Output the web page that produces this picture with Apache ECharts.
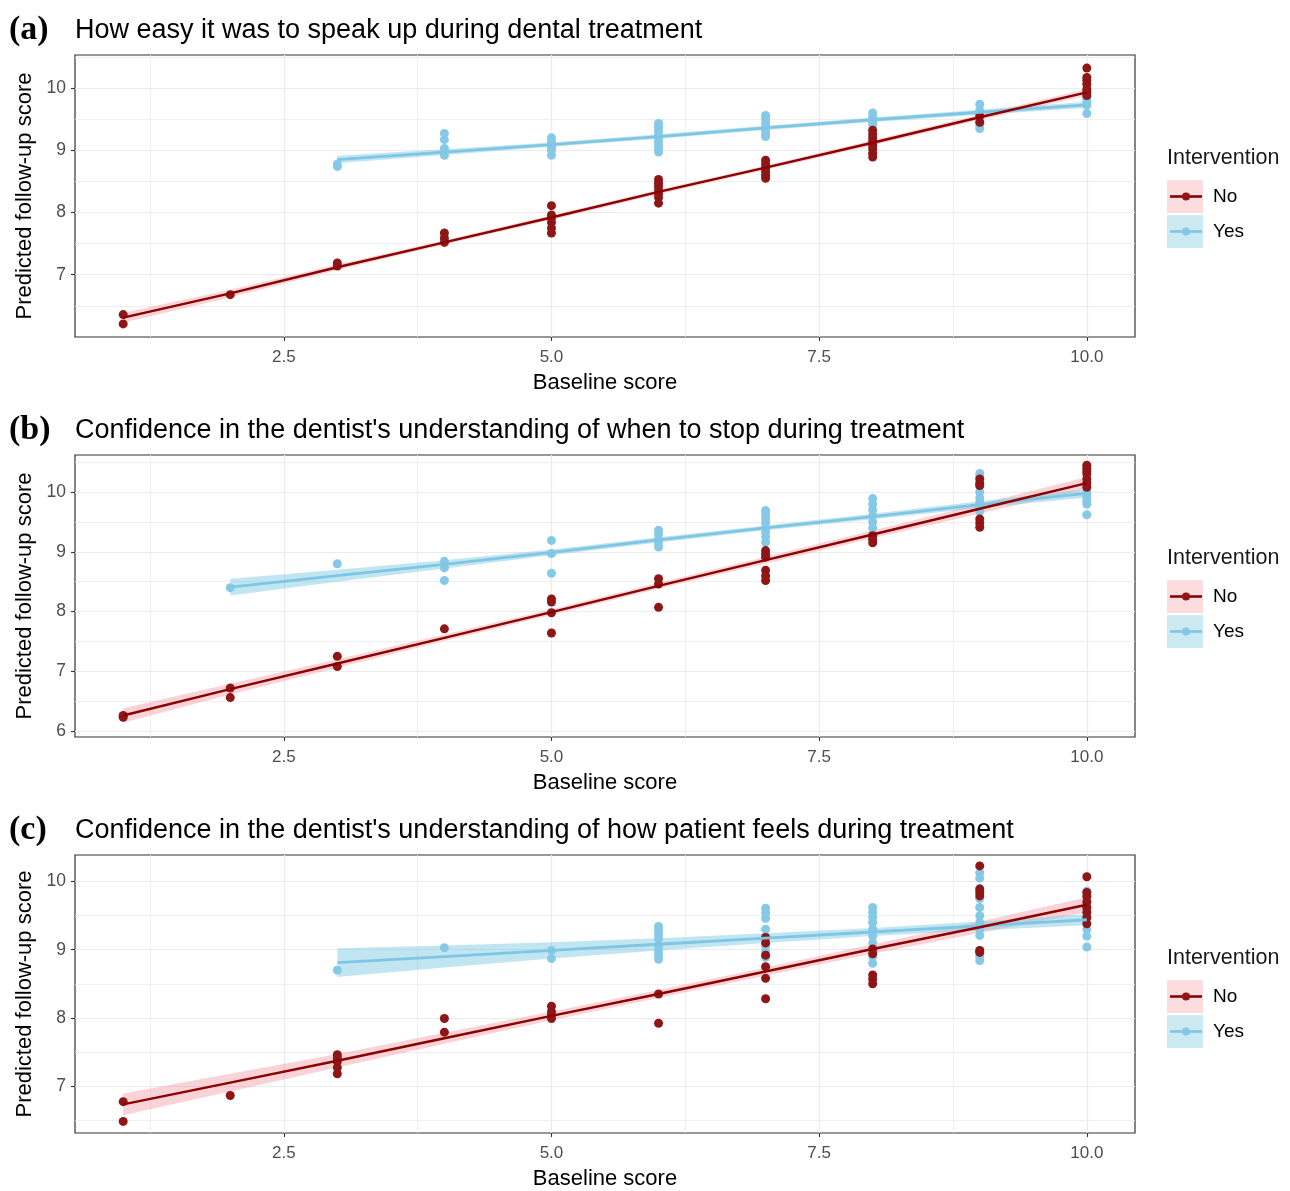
<!DOCTYPE html>
<html><head><meta charset="utf-8">
<script src="https://cdn.jsdelivr.net/npm/echarts@6/dist/echarts.min.js"></script>
<style>html,body{margin:0;padding:0;background:#fff}#chart{width:1290px;height:1191px}</style>
</head><body><div id="chart"></div>
<script>
// ---------------- DATA ----------------
const panelLetters = ['(a)', '(b)', '(c)'];
const panelTitles = [
  'How easy it was to speak up during dental treatment',
  "Confidence in the dentist's understanding of when to stop during treatment",
  "Confidence in the dentist's understanding of how patient feels during treatment"
];
const xAxisTitle = 'Baseline score';
const yAxisTitle = 'Predicted follow-up score';
const legendTitle = 'Intervention';
const groupNames = ['No', 'Yes'];

const xRange = [0.55, 10.45];
const xTickValues = [2.5, 5, 7.5, 10];
const xMinorValues = [1.25, 3.75, 6.25, 8.75];
const yRangeA = [6.0, 10.53], yRangeB = [5.9, 10.62], yRangeC = [6.31, 10.39];
const yTicksA = [7, 8, 9, 10], yTicksB = [6, 7, 8, 9, 10], yTicksC = [7, 8, 9, 10];
const yMinorA = [6.5, 7.5, 8.5, 9.5, 10.5], yMinorB = [6.5, 7.5, 8.5, 9.5, 10.5], yMinorC = [6.5, 7.5, 8.5, 9.5];

// Panel (a)
const aNoPoints = [[1,6.36],[1,6.21],[2,6.68],[3,7.19],[3,7.14],[4,7.67],[4,7.59],[4,7.52],
  [5,8.11],[5,7.96],[5,7.91],[5,7.84],[5,7.75],[5,7.67],
  [6,8.53],[6,8.47],[6,8.42],[6,8.36],[6,8.30],[6,8.24],[6,8.15],
  [7,8.84],[7,8.78],[7,8.72],[7,8.66],[7,8.60],[7,8.55],
  [8,9.32],[8,9.26],[8,9.20],[8,9.14],[8,9.08],[8,9.02],[8,8.95],[8,8.89],
  [9,9.55],[9,9.45],
  [10,10.32],[10,10.17],[10,10.12],[10,10.06],[10,9.98],[10,9.93],[10,9.88]];
const aYesPoints = [[3,8.74],[3,8.78],[4,9.27],[4,9.17],[4,9.03],[4,8.92],
  [5,9.20],[5,9.13],[5,9.05],[5,9.00],[5,8.92],
  [6,9.43],[6,9.37],[6,9.31],[6,9.25],[6,9.19],[6,9.13],[6,9.07],[6,9.02],[6,8.97],
  [7,9.56],[7,9.50],[7,9.44],[7,9.38],[7,9.32],[7,9.26],[7,9.22],
  [8,9.60],[8,9.53],[8,9.45],[8,9.40],
  [9,9.74],[9,9.64],[9,9.53],[9,9.41],[9,9.35],
  [10,9.86],[10,9.82],[10,9.77],[10,9.72],[10,9.59]];
const aNoFitX = [1,2,3,4,5,6,7,8,9,10];
const aNoFit  = [6.31,6.70,7.12,7.52,7.92,8.33,8.72,9.12,9.53,9.93];
const aNoBand = [0.08,0.06,0.045,0.035,0.035,0.035,0.035,0.04,0.045,0.055];
const aYesFitX = [3,4,5,6,7,8,9,10];
const aYesFit  = [8.85,8.97,9.09,9.22,9.36,9.49,9.61,9.73];
const aYesBand = [0.06,0.045,0.035,0.035,0.035,0.035,0.04,0.05];

// Panel (b)
const bNoPoints = [[1,6.26],[1,6.23],[2,6.72],[2,6.56],[3,7.25],[3,7.08],[4,7.71],
  [5,8.21],[5,8.16],[5,7.98],[5,7.64],
  [6,8.55],[6,8.46],[6,8.07],
  [7,9.02],[7,8.96],[7,8.91],[7,8.69],[7,8.60],[7,8.52],
  [8,9.27],[8,9.21],[8,9.15],
  [9,10.22],[9,10.15],[9,10.11],[9,9.55],[9,9.48],[9,9.41],
  [10,10.45],[10,10.40],[10,10.35],[10,10.30],[10,10.22],[10,10.15],[10,10.08]];
const bYesPoints = [[2,8.40],[3,8.80],[4,8.84],[4,8.73],[4,8.52],[5,9.19],[5,8.97],[5,8.64],
  [6,9.36],[6,9.30],[6,9.22],[6,9.15],[6,9.08],
  [7,9.69],[7,9.62],[7,9.55],[7,9.48],[7,9.40],[7,9.33],[7,9.25],[7,9.16],
  [8,9.89],[8,9.80],[8,9.70],[8,9.60],[8,9.50],[8,9.40],[8,9.30],
  [9,10.31],[9,10.25],[9,10.10],[9,10.00],[9,9.90],[9,9.82],[9,9.75],[9,9.68],
  [10,10.00],[10,9.95],[10,9.90],[10,9.85],[10,9.80],[10,9.62]];
const bNoFitX = [1,2,3,4,5,6,7,8,9,10];
const bNoFit  = [6.26,6.70,7.13,7.56,7.99,8.43,8.86,9.29,9.72,10.15];
const bNoBand = [0.12,0.09,0.07,0.055,0.05,0.05,0.055,0.065,0.08,0.10];
const bYesFitX = [2,3,4,5,6,7,8,9,10];
const bYesFit  = [8.41,8.60,8.79,8.99,9.20,9.40,9.59,9.79,9.98];
const bYesBand = [0.14,0.10,0.07,0.05,0.045,0.04,0.045,0.055,0.07];

// Panel (c)
const cNoPoints = [[1,6.77],[1,6.48],[2,6.86],[3,7.46],[3,7.41],[3,7.36],[3,7.27],[3,7.18],
  [4,7.99],[4,7.79],[5,8.17],[5,8.09],[5,8.04],[5,7.99],
  [6,8.35],[6,7.92],
  [7,9.18],[7,9.10],[7,8.92],[7,8.75],[7,8.58],[7,8.28],
  [8,9.01],[8,8.94],[8,8.63],[8,8.57],[8,8.50],
  [9,10.23],[9,9.89],[9,9.84],[9,9.79],[9,8.99],[9,8.96],
  [10,10.07],[10,9.84],[10,9.78],[10,9.70],[10,9.62],[10,9.55],[10,9.47],[10,9.38]];
const cYesPoints = [[3,8.70],[4,9.03],[5,8.99],[5,8.87],
  [6,9.34],[6,9.28],[6,9.22],[6,9.16],[6,9.05],[6,8.98],[6,8.92],[6,8.86],
  [7,9.61],[7,9.54],[7,9.46],[7,9.30],[7,9.18],[7,9.05],[7,8.97],[7,8.89],
  [8,9.62],[8,9.55],[8,9.48],[8,9.40],[8,9.30],[8,9.20],[8,9.10],[8,9.00],[8,8.90],[8,8.80],
  [9,10.13],[9,10.05],[9,9.90],[9,9.75],[9,9.62],[9,9.50],[9,9.40],[9,9.30],[9,9.21],[9,8.99],[9,8.90],[9,8.84],
  [10,9.86],[10,9.80],[10,9.70],[10,9.60],[10,9.50],[10,9.40],[10,9.30],[10,9.20],[10,9.04]];
const cNoFitX = [1,2,3,4,5,6,7,8,9,10];
const cNoFit  = [6.73,7.05,7.37,7.70,8.03,8.35,8.68,9.01,9.33,9.66];
const cNoBand = [0.16,0.13,0.10,0.08,0.065,0.06,0.06,0.07,0.085,0.11];
const cYesFitX = [3,4,5,6,7,8,9,10];
const cYesFit  = [8.81,8.90,8.99,9.08,9.17,9.26,9.35,9.44];
const cYesBand = [0.21,0.16,0.12,0.09,0.07,0.06,0.065,0.08];

// ---------------- ASSEMBLY ----------------
const panels = [
  {yRange: yRangeA, yTicks: yTicksA, yMinor: yMinorA, no: [aNoPoints, aNoFitX, aNoFit, aNoBand], yes: [aYesPoints, aYesFitX, aYesFit, aYesBand]},
  {yRange: yRangeB, yTicks: yTicksB, yMinor: yMinorB, no: [bNoPoints, bNoFitX, bNoFit, bNoBand], yes: [bYesPoints, bYesFitX, bYesFit, bYesBand]},
  {yRange: yRangeC, yTicks: yTicksC, yMinor: yMinorC, no: [cNoPoints, cNoFitX, cNoFit, cNoBand], yes: [cYesPoints, cYesFitX, cYesFit, cYesBand]}
];

const gridTops = [55, 455, 855];
const gridHeights = [282, 282, 281];
const SANS = '"Liberation Sans", Arial, sans-serif';
const SERIF = '"Liberation Serif", "Times New Roman", serif';
const STYLE = {
  No:  {point: '#8F1616', line: '#8B0000', band: 'rgba(240,140,150,0.38)', key: '#FBDDDF'},
  Yes: {point: '#86C9E7', line: '#7EC6E4', band: 'rgba(120,200,225,0.45)', key: '#CDEAF2'}
};
const GRID_COL = '#EBEBEB';

const grid = [], xAxis = [], yAxis = [], series = [], graphic = [];

function fmtX(v) { return Number(v).toFixed(1); }

panels.forEach(function (p, i) {
  grid.push({left: 75, right: 155, top: gridTops[i], height: gridHeights[i], show: true,
    borderColor: '#333333', borderWidth: 1.2, backgroundColor: '#fff', containLabel: false});
  // primary x
  xAxis.push({type: 'value', gridIndex: i, min: xRange[0], max: xRange[1],
    name: xAxisTitle, nameLocation: 'middle', nameGap: 35,
    nameTextStyle: {fontFamily: SANS, fontSize: 22, color: '#000'},
    axisLine: {show: false},
    axisTick: {show: true, length: 4, lineStyle: {color: '#333', width: 1.1}, customValues: xTickValues},
    axisLabel: {show: true, customValues: xTickValues, formatter: fmtX, margin: 12,
      fontFamily: SANS, fontSize: 17, color: '#4D4D4D'},
    splitLine: {show: true, lineStyle: {color: GRID_COL, width: 1.2}}
  });
  // minor x
  xAxis.push({type: 'value', gridIndex: i, min: xRange[0], max: xRange[1], position: 'bottom',
    axisLine: {show: false}, axisLabel: {show: false},
    axisTick: {show: false, customValues: xMinorValues},
    splitLine: {show: true, lineStyle: {color: GRID_COL, width: 0.8}}
  });
  // primary y
  yAxis.push({type: 'value', gridIndex: i, min: p.yRange[0], max: p.yRange[1],
    name: yAxisTitle, nameLocation: 'middle', nameGap: 32, nameRotate: 90,
    nameTextStyle: {fontFamily: SANS, fontSize: 22, color: '#000'},
    axisLine: {show: false},
    axisTick: {show: true, length: 4, lineStyle: {color: '#333', width: 1.1}, customValues: p.yTicks},
    axisLabel: {show: true, customValues: p.yTicks, margin: 9,
      fontFamily: SANS, fontSize: 17.5, color: '#4D4D4D'},
    splitLine: {show: true, lineStyle: {color: GRID_COL, width: 1.2}}
  });
  // minor y
  yAxis.push({type: 'value', gridIndex: i, min: p.yRange[0], max: p.yRange[1], position: 'left',
    axisLine: {show: false}, axisLabel: {show: false},
    axisTick: {show: false, customValues: p.yMinor},
    splitLine: {show: true, lineStyle: {color: GRID_COL, width: 0.8}}
  });

  const xi = i * 2, yi = i * 2;
  const grp = {No: p.no, Yes: p.yes};

  // ribbons
  groupNames.forEach(function (g) {
    const fx = grp[g][1], fy = grp[g][2], hw = grp[g][3];
    series.push({
      type: 'custom', xAxisIndex: xi, yAxisIndex: yi, silent: true, z: 1,
      data: [[fx[0], fy[0]]],
      renderItem: function (params, api) {
        const pts = [];
        for (let k = 0; k < fx.length; k++) pts.push(api.coord([fx[k], fy[k] + hw[k]]));
        for (let k = fx.length - 1; k >= 0; k--) pts.push(api.coord([fx[k], fy[k] - hw[k]]));
        return {type: 'polygon', shape: {points: pts}, style: {fill: STYLE[g].band}};
      }
    });
  });
  // points (Yes first, No over)
  ['Yes', 'No'].forEach(function (g) {
    series.push({type: 'scatter', name: g, xAxisIndex: xi, yAxisIndex: yi, z: 3,
      symbol: 'circle', symbolSize: 9, data: grp[g][0],
      itemStyle: {color: STYLE[g].point, opacity: 1}, silent: true});
  });
  // fitted lines
  ['Yes', 'No'].forEach(function (g) {
    const fx = grp[g][1], fy = grp[g][2];
    series.push({type: 'line', name: g + ' fit', xAxisIndex: xi, yAxisIndex: yi, z: 4,
      showSymbol: false, symbol: 'none', smooth: false, silent: true,
      data: fx.map(function (x, k) { return [x, fy[k]]; }),
      lineStyle: {color: STYLE[g].line, width: g === 'No' ? 2.4 : 2.8}});
  });

  const T = gridTops[i];
  graphic.push({type: 'text', left: 9, top: T - 42,
    style: {text: panelLetters[i], font: 'bold 34px ' + SERIF, fill: '#000'}});
  graphic.push({type: 'text', left: 75, top: T - 38,
    style: {text: panelTitles[i], font: '27px ' + SANS, fill: '#000'}});
  // legend
  graphic.push({type: 'text', left: 1167, top: T + 92,
    style: {text: legendTitle, font: '21.5px ' + SANS, fill: '#1A1A1A'}});
  groupNames.forEach(function (g, k) {
    const ky = T + 125 + k * 35;
    graphic.push({type: 'rect', shape: {x: 1167, y: ky, width: 36, height: 33}, style: {fill: STYLE[g].key}});
    graphic.push({type: 'line', shape: {x1: 1170, y1: ky + 16.5, x2: 1202, y2: ky + 16.5},
      style: {stroke: STYLE[g].line, lineWidth: 2.6}});
    graphic.push({type: 'circle', shape: {cx: 1186, cy: ky + 16.5, r: 4}, style: {fill: STYLE[g].point}});
    graphic.push({type: 'text', left: 1213, top: ky + 7,
      style: {text: g, font: '19px ' + SANS, fill: '#000'}});
  });
});

const chart = echarts.init(document.getElementById('chart'), null, {renderer: 'canvas'});
chart.setOption({
  animation: false,
  backgroundColor: '#fff',
  grid: grid, xAxis: xAxis, yAxis: yAxis, series: series, graphic: graphic
});
</script></body></html>
